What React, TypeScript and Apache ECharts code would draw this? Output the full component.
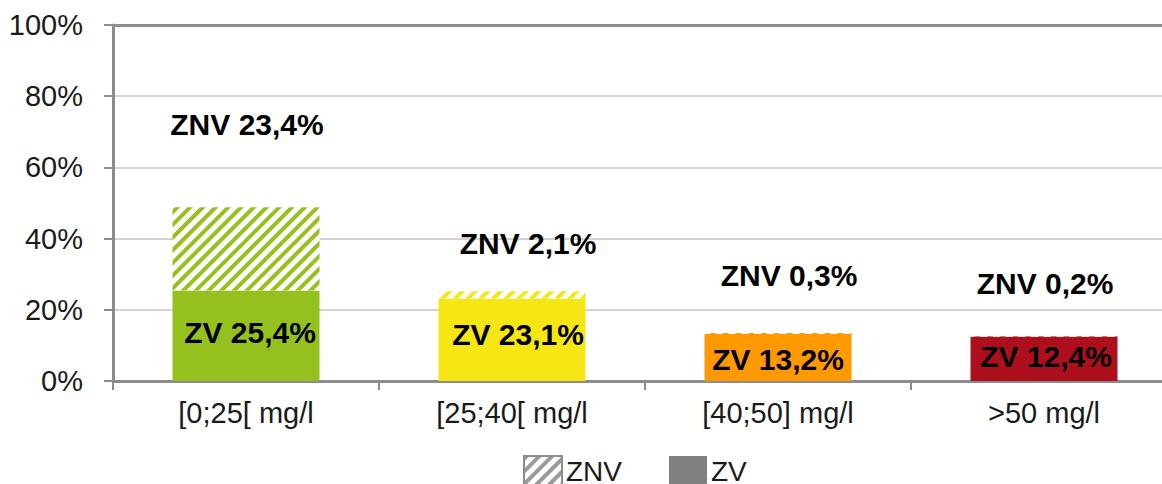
import React, { useEffect, useRef } from "react";
import * as echarts from "echarts";

const categories = ["[0;25[ mg/l", "[25;40[ mg/l", "[40;50] mg/l", ">50 mg/l"];
const zvValues = [25.4, 23.1, 13.2, 12.4];
const znvValues = [23.4, 2.1, 0.3, 0.2];
const barColors = ["#95C11F", "#F5E614", "#FF9900", "#AD0F1C"];
const yTicks = [0, 20, 40, 60, 80, 100];

const FONT = "'Liberation Sans', Arial, sans-serif";
const AXIS_GRAY = "#8c8c8c";

// label placement (style, not data)
const znvLabelOffset = [
  [1, -68],
  [16, -33],
  [11, -42],
  [1, -38],
];
const zvLabelOffset = [
  [4, -3],
  [6, -5],
  [0, 2],
  [2, -2],
];

const fmt = (v: number) => String(v).replace(".", ",");

const hatch = (color: string) => ({
  color,
  backgroundColor: "#ffffff",
  symbol: "rect",
  symbolSize: 1,
  dashArrayX: [1, 0],
  dashArrayY: [3.8, 4.7],
  rotation: -Math.PI / 4,
});

export default function App() {
  const ref = useRef<HTMLDivElement>(null);
  useEffect(() => {
    if (!ref.current) return;
    const chart = echarts.init(ref.current, undefined, { renderer: "svg" });
    const option: any = {
      animation: false,
      textStyle: { fontFamily: FONT },
      legend: {
        left: 518,
        top: 450,
        itemWidth: 38,
        itemHeight: 30,
        itemGap: 47,
        textStyle: { fontSize: 28, lineHeight: 22, color: "#1a1a1a", fontFamily: FONT, padding: [0, 0, 0, -1] },
        data: [
          { name: "ZNV", icon: "rect" },
          { name: "ZV", icon: "rect" },
        ],
      },
      grid: { left: 113, right: -15, top: 25, bottom: 103, containLabel: false, outerBoundsMode: "none" },
      xAxis: [
        {
          type: "category",
          data: categories,
          axisLine: { show: true, lineStyle: { color: AXIS_GRAY, width: 3 } },
          axisTick: { show: true, length: 9, alignWithLabel: false, lineStyle: { color: AXIS_GRAY, width: 2 } },
          axisLabel: { fontSize: 29, color: "#1a1a1a", margin: 17, fontFamily: FONT, interval: 0 },
          splitLine: { show: false },
        },
        {
          type: "category",
          position: "top",
          data: categories,
          axisLine: { show: true, lineStyle: { color: AXIS_GRAY, width: 3 } },
          axisTick: { show: false },
          axisLabel: { show: false },
        },
      ],
      yAxis: {
        type: "value",
        min: yTicks[0],
        max: yTicks[yTicks.length - 1],
        interval: yTicks[1] - yTicks[0],
        axisLine: { show: true, lineStyle: { color: AXIS_GRAY, width: 3 } },
        axisTick: { show: true, length: 9, lineStyle: { color: AXIS_GRAY, width: 2 } },
        axisLabel: { formatter: "{value}%", fontSize: 29, color: "#1a1a1a", margin: 30, fontFamily: FONT },
        splitLine: { show: true, lineStyle: { color: "#c4c4c4", width: 1.5 } },
      },
      series: [
        {
          name: "ZV",
          type: "bar",
          stack: "total",
          barWidth: 147,
          itemStyle: { color: "#808080" },
          data: zvValues.map((v, i) => ({
            value: v,
            itemStyle: { color: barColors[i] },
            label: {
              show: true,
              position: "inside",
              offset: zvLabelOffset[i],
              formatter: (p: any) => "ZV " + fmt(p.value) + "%",
              fontSize: 30,
              fontWeight: "bold",
              color: "#000",
              fontFamily: FONT,
            },
          })),
        },
        {
          name: "ZNV",
          type: "bar",
          stack: "total",
          barWidth: 147,
          itemStyle: { color: "#ffffff", borderColor: "#8c8c8c", borderWidth: 1.5, decal: hatch("#9a9a9a") },
          data: znvValues.map((v, i) => ({
            value: v,
            itemStyle: { color: "#ffffff", borderWidth: 0, decal: hatch(barColors[i]) },
            label: {
              show: true,
              position: "top",
              distance: 0,
              offset: znvLabelOffset[i],
              formatter: (p: any) => "ZNV " + fmt(p.value) + "%",
              fontSize: 30,
              fontWeight: "bold",
              color: "#000",
              fontFamily: FONT,
            },
          })),
        },
      ],
    };
    chart.setOption(option);
    return () => chart.dispose();
  }, []);
  return (
    <div
      ref={ref}
      style={{ position: "absolute", left: 0, top: 0, width: 1162, height: 484, background: "#fff" }}
    />
  );
}
